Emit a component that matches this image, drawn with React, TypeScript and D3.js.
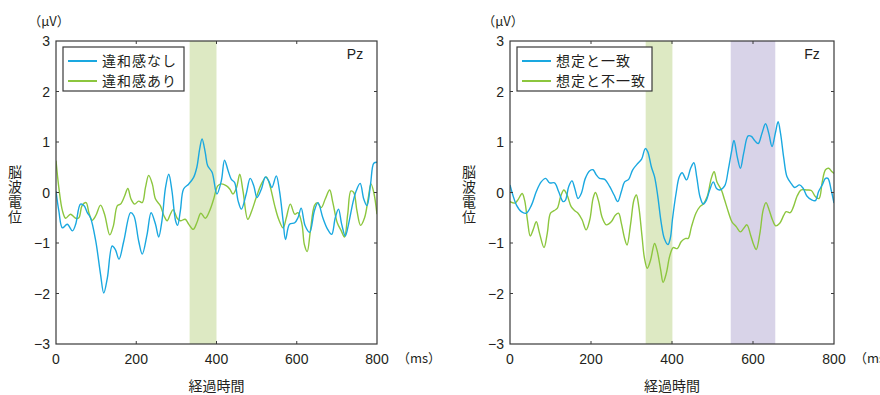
import React, { useEffect, useRef } from 'react';
import * as d3 from 'd3';

// time (ms), value (μV)
const pzMatchData: [number, number][] = [
  [0, 0.03], [7, -0.36], [16, -0.7], [28, -0.63], [41, -0.76], [49, -0.63], [61, -0.23], [70, -0.26],
  [78, -0.4], [86, -0.5], [99, -0.96], [111, -1.62], [119, -1.99], [128, -1.69], [140, -1.06], [148, -1.13],
  [157, -1.32], [169, -0.96], [186, -0.4], [194, -0.46], [206, -0.96], [215, -1.22], [227, -0.83], [237, -0.4],
  [248, -0.63], [256, -0.88], [264, -0.56], [273, 0.1], [281, 0.36], [289, 0.03], [298, -0.56], [303, -0.65],
  [310, -0.36], [318, 0.07], [331, 0.17], [343, 0.3], [351, 0.5], [358, 0.86], [364, 1.06], [372, 0.79],
  [378, 0.53], [389, 0.4], [401, -0.03], [412, 0.23], [420, 0.64], [429, 0.43], [437, 0.26], [445, 0.2],
  [454, -0.17], [462, -0.33], [474, -0.03], [484, 0.28], [493, 0.13], [501, -0.1], [512, 0.07], [522, 0.31],
  [530, 0.23], [538, 0.1], [549, 0.33], [557, 0.03], [566, -0.56], [572, -0.93], [582, -0.63], [595, -0.6],
  [603, -0.5], [611, -0.31], [621, -0.66], [632, -0.79], [644, -0.36], [653, -0.2], [665, -0.5], [677, -0.73],
  [687, -0.83], [696, -0.5], [704, -0.33], [712, -0.63], [721, -0.86], [729, -0.63], [740, -0.2], [748, 0.03],
  [758, 0.18], [767, -0.13], [775, -0.26], [784, 0.17], [792, 0.58], [800, 0.6],
];

const pzOddData: [number, number][] = [
  [0, 0.63], [7, 0.1], [16, -0.36], [24, -0.51], [36, -0.43], [49, -0.51], [57, -0.5], [65, -0.26],
  [75, -0.2], [82, -0.4], [90, -0.55], [99, -0.46], [111, -0.25], [121, -0.43], [134, -0.84], [143, -0.66],
  [153, -0.26], [161, -0.23], [171, -0.07], [179, 0.08], [187, -0.13], [196, -0.23], [206, -0.17], [215, -0.2],
  [223, 0.1], [231, 0.34], [240, 0.17], [248, -0.13], [260, -0.26], [269, -0.46], [277, -0.56], [285, -0.43],
  [292, -0.34], [302, -0.51], [310, -0.56], [322, -0.53], [331, -0.63], [342, -0.73], [351, -0.6], [361, -0.41],
  [372, -0.51], [383, -0.36], [393, -0.13], [403, 0.13], [412, 0.17], [425, 0.13], [433, 0.07], [441, -0.03],
  [450, 0.1], [458, 0.36], [466, 0.03], [478, -0.53], [488, -0.36], [499, -0.1], [512, 0.17], [524, 0.31],
  [532, 0.17], [545, -0.26], [555, -0.53], [566, -0.7], [574, -0.5], [584, -0.23], [595, -0.43], [603, -0.4],
  [613, -0.63], [619, -1.03], [626, -1.17], [634, -0.76], [644, -0.26], [651, -0.2], [661, -0.3], [671, -0.13],
  [682, 0.05], [690, -0.2], [701, -0.6], [711, -0.76], [719, -0.88], [727, -0.43], [735, 0.03], [742, 0.0],
  [750, -0.36], [759, -0.65], [769, -0.5], [779, -0.07], [785, 0.17], [792, 0.0], [800, -0.43],
];

const fzMatchData: [number, number][] = [
  [0, 0.15], [7, -0.05], [16, -0.25], [28, -0.38], [40, -0.41], [53, -0.25], [65, 0.02], [77, 0.21],
  [88, 0.28], [98, 0.19], [110, 0.19], [120, 0.02], [131, -0.18], [137, -0.15], [145, 0.12], [153, 0.23],
  [160, 0.08], [168, -0.12], [176, -0.02], [186, 0.28], [197, 0.43], [205, 0.45], [213, 0.35], [221, 0.28],
  [234, 0.26], [246, 0.12], [257, -0.05], [266, -0.18], [275, 0.02], [283, 0.21], [293, 0.26], [303, 0.45],
  [316, 0.58], [325, 0.66], [334, 0.87], [340, 0.81], [349, 0.51], [357, 0.31], [365, -0.08], [373, -0.58],
  [381, -0.91], [390, -1.03], [396, -0.9], [401, -0.54], [410, -0.02], [418, 0.31], [425, 0.39], [436, 0.25],
  [446, 0.48], [454, 0.59], [461, 0.31], [469, -0.08], [477, -0.23], [485, -0.15], [493, 0.05], [502, 0.21],
  [510, 0.08], [518, 0.05], [530, 0.13], [539, 0.45], [547, 0.81], [553, 1.03], [561, 0.71], [569, 0.48],
  [577, 0.78], [588, 1.12], [596, 1.11], [604, 1.03], [613, 0.97], [622, 1.17], [631, 1.36], [639, 1.17],
  [647, 0.91], [655, 1.17], [662, 1.4], [668, 1.17], [676, 0.68], [684, 0.31], [695, 0.17], [703, 0.1],
  [715, 0.15], [724, 0.08], [733, -0.07], [744, -0.14], [754, -0.16], [762, 0.02], [771, 0.15], [779, 0.28],
  [785, 0.28], [793, 0.05], [800, -0.21],
];

const fzOddData: [number, number][] = [
  [0, -0.18], [12, -0.21], [20, -0.14], [30, -0.02], [36, -0.15], [43, -0.54], [50, -0.86], [57, -0.74],
  [65, -0.58], [73, -0.81], [84, -1.09], [92, -0.81], [100, -0.41], [109, -0.36], [117, -0.31], [125, -0.08],
  [133, 0.05], [141, -0.05], [151, -0.28], [160, -0.36], [168, -0.41], [178, -0.54], [188, -0.74], [197, -0.54],
  [205, -0.12], [211, 0.0], [219, -0.18], [227, -0.48], [238, -0.64], [250, -0.58], [260, -0.45], [268, -0.41],
  [275, -0.61], [283, -0.91], [289, -1.04], [298, -0.61], [306, -0.15], [312, -0.05], [318, -0.28], [326, -0.87],
  [332, -1.3], [339, -1.5], [347, -1.34], [357, -1.01], [363, -1.14], [372, -1.53], [378, -1.78], [386, -1.6],
  [394, -1.27], [403, -1.09], [413, -1.11], [423, -0.97], [434, -0.91], [440, -0.91], [448, -0.68], [459, -0.41],
  [469, -0.28], [477, -0.23], [487, -0.08], [497, 0.28], [504, 0.41], [511, 0.21], [522, 0.05], [530, -0.15],
  [539, -0.38], [548, -0.58], [559, -0.68], [569, -0.78], [577, -0.71], [585, -0.64], [594, -0.84], [602, -1.04],
  [608, -1.13], [617, -0.81], [625, -0.35], [632, -0.2], [640, -0.35], [648, -0.54], [656, -0.66], [666, -0.61],
  [676, -0.45], [682, -0.38], [692, -0.4], [700, -0.28], [709, -0.07], [719, 0.05], [732, 0.05], [744, 0.04],
  [754, -0.08], [763, -0.12], [771, 0.21], [779, 0.45], [787, 0.48], [795, 0.41], [800, 0.38],
];

const pzLabels = ['違和感なし', '違和感あり'];
const fzLabels = ['想定と一致', '想定と不一致'];
const pzBands: [number, number][] = [[333, 400]];
const fzBands: [number, number][] = [[335, 401], [545, 655]];
const xTicks = [0, 200, 400, 600, 800];
const yTicks = [3, 2, 1, 0, -1, -2, -3];
const yTitleChars = ['脳', '波', '電', '位'];

const BLUE = '#1aa8e0';
const GREEN = '#8cc63e';
const BAND_COLORS = ['#dde9c3', '#d8d3e8'];
const JP = '"Noto Sans CJK JP", sans-serif';
const NUM = '"Liberation Sans", Arial, sans-serif';

const App = () => {
  const svgRef = useRef<SVGSVGElement>(null);

  useEffect(() => {
    const svg = d3.select(svgRef.current);
    svg.selectAll('*').remove();

    const panels = [
      { left: 56, right: 377, site: 'Pz', series: [pzMatchData, pzOddData], labels: pzLabels, bands: pzBands, legendW: 121 },
      { left: 510, right: 834, site: 'Fz', series: [fzMatchData, fzOddData], labels: fzLabels, bands: fzBands, legendW: 135 },
    ];
    const top = 41;
    const bottom = 344;

    panels.forEach(p => {
      const x = d3.scaleLinear().domain([0, 800]).range([p.left, p.right]);
      const y = d3.scaleLinear().domain([-3, 3]).range([bottom, top]);
      const g = svg.append('g');

      // 網掛け区間
      g.selectAll('.band')
        .data(p.bands)
        .enter().append('rect')
        .attr('x', d => x(d[0]))
        .attr('y', top)
        .attr('width', d => x(d[1]) - x(d[0]))
        .attr('height', bottom - top)
        .attr('fill', (d, i) => BAND_COLORS[i]);

      const clipId = `clip-${p.site}`;
      g.append('clipPath').attr('id', clipId)
        .append('rect')
        .attr('x', p.left).attr('y', top)
        .attr('width', p.right - p.left).attr('height', bottom - top);

      const line = d3.line<[number, number]>()
        .x(d => x(d[0]))
        .y(d => y(d[1]))
        .curve(d3.curveCatmullRom.alpha(0.5));

      // 波形 (green under blue)
      [1, 0].forEach(i => {
        g.append('path')
          .attr('d', line(p.series[i]))
          .attr('clip-path', `url(#${clipId})`)
          .attr('fill', 'none')
          .attr('stroke', i === 0 ? BLUE : GREEN)
          .attr('stroke-width', 1.4);
      });

      // 枠と目盛り
      g.append('rect')
        .attr('x', p.left).attr('y', top)
        .attr('width', p.right - p.left).attr('height', bottom - top)
        .attr('fill', 'none')
        .attr('stroke', '#3a3a3a')
        .attr('stroke-width', 1.2);

      xTicks.slice(1, -1).forEach(t => {
        g.append('line').attr('x1', x(t)).attr('x2', x(t)).attr('y1', bottom).attr('y2', bottom - 3)
          .attr('stroke', '#3a3a3a');
        g.append('line').attr('x1', x(t)).attr('x2', x(t)).attr('y1', top).attr('y2', top + 3)
          .attr('stroke', '#3a3a3a');
      });
      yTicks.slice(1, -1).forEach(v => {
        g.append('line').attr('x1', p.left).attr('x2', p.left + 3).attr('y1', y(v)).attr('y2', y(v))
          .attr('stroke', '#3a3a3a');
        g.append('line').attr('x1', p.right).attr('x2', p.right - 3).attr('y1', y(v)).attr('y2', y(v))
          .attr('stroke', '#3a3a3a');
      });

      g.selectAll('.ytick')
        .data(yTicks)
        .enter().append('text')
        .attr('x', p.left - 6)
        .attr('y', d => y(d))
        .attr('dy', '0.36em')
        .attr('text-anchor', 'end')
        .attr('font-family', NUM)
        .attr('font-size', 14)
        .attr('fill', '#231f20')
        .text(d => (d < 0 ? `−${-d}` : `${d}`));

      g.selectAll('.xtick')
        .data(xTicks)
        .enter().append('text')
        .attr('x', d => x(d))
        .attr('y', bottom + 15)
        .attr('dy', '0.36em')
        .attr('text-anchor', 'middle')
        .attr('font-family', NUM)
        .attr('font-size', 14)
        .attr('fill', '#231f20')
        .text(d => `${d}`);

      g.append('text')
        .attr('x', p.right + 20)
        .attr('y', bottom + 14)
        .attr('dy', '0.36em')
        .attr('font-family', JP)
        .attr('font-size', 13)
        .attr('fill', '#231f20')
        .text('（ms）');

      g.append('text')
        .attr('x', p.left - 7)
        .attr('y', 21)
        .attr('dy', '0.36em')
        .attr('text-anchor', 'middle')
        .attr('font-family', JP)
        .attr('font-size', 13)
        .attr('fill', '#231f20')
        .text('（μV）');

      g.append('text')
        .attr('x', (p.left + p.right) / 2)
        .attr('y', 386)
        .attr('dy', '0.36em')
        .attr('text-anchor', 'middle')
        .attr('font-family', JP)
        .attr('font-size', 14)
        .attr('fill', '#231f20')
        .text('経過時間');

      // 縦書きラベル (one text, stacked tspans)
      const yt = g.append('text')
        .attr('text-anchor', 'middle')
        .attr('font-family', JP)
        .attr('font-size', 14)
        .attr('fill', '#231f20');
      yTitleChars.forEach((c, i) => {
        yt.append('tspan')
          .attr('x', p.left - 41)
          .attr('y', 177 + i * 15)
          .text(c);
      });

      g.append('text')
        .attr('x', p.right - 22)
        .attr('y', 54)
        .attr('dy', '0.36em')
        .attr('text-anchor', 'middle')
        .attr('font-family', NUM)
        .attr('font-size', 14)
        .attr('fill', '#231f20')
        .text(p.site);

      // 凡例
      const lg = g.append('g').attr('transform', `translate(${p.left + 7}, 47)`);
      lg.append('rect')
        .attr('width', p.legendW).attr('height', 44)
        .attr('fill', 'white')
        .attr('stroke', '#3a3a3a')
        .attr('stroke-width', 1.2);
      p.labels.forEach((lab, i) => {
        lg.append('line')
          .attr('x1', 5).attr('x2', 34)
          .attr('y1', 14 + i * 20).attr('y2', 14 + i * 20)
          .attr('stroke', i === 0 ? BLUE : GREEN)
          .attr('stroke-width', 2);
        lg.append('text')
          .attr('x', 39)
          .attr('y', 14 + i * 20)
          .attr('dy', '0.36em')
          .attr('font-family', JP)
          .attr('font-size', 14)
          .attr('letter-spacing', 1)
          .attr('fill', '#231f20')
          .text(lab);
      });
    });
  }, []);

  return (
    <svg ref={svgRef} width={880} height={395}
      style={{ position: 'absolute', left: 0, top: 0, background: 'white' }} />
  );
};

export default App;
